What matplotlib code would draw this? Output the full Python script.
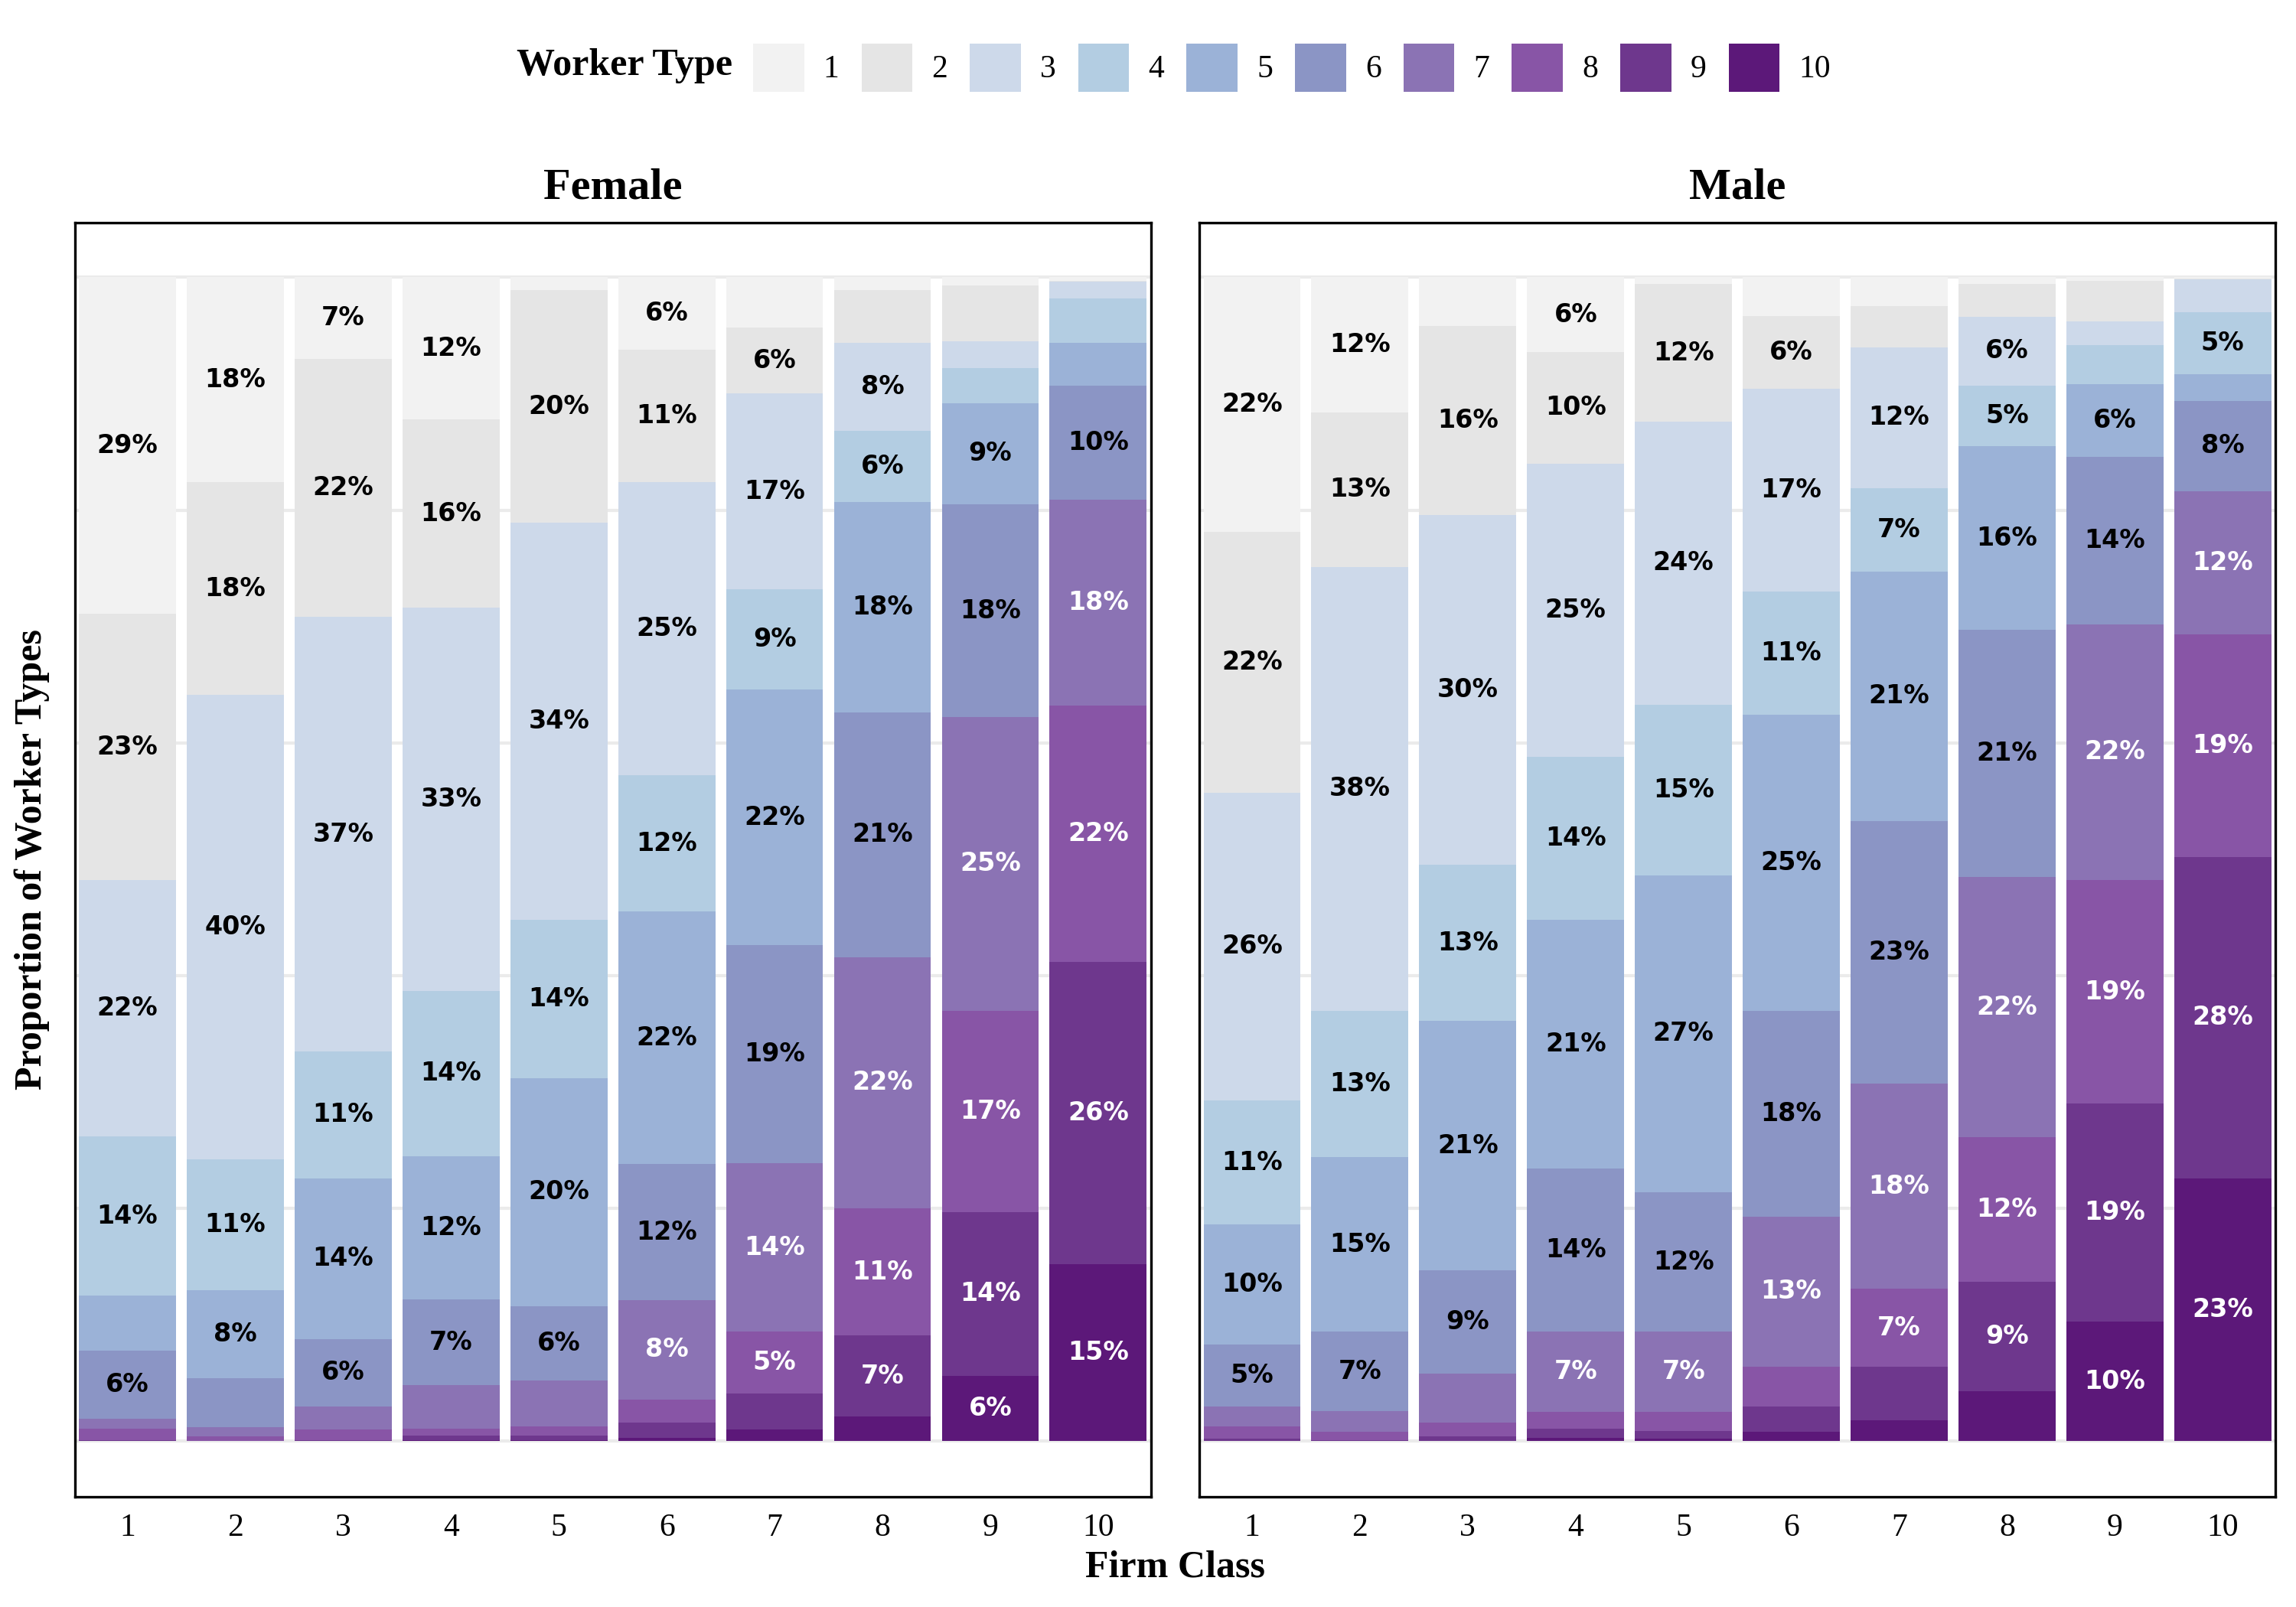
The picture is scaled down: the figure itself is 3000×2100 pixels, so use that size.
import matplotlib.pyplot as plt
import numpy as np
from matplotlib.patches import Patch

# classi di impresa (asse x) e tipi di lavoratore (pila)
firm_class = np.arange(1, 11)
worker_types = [str(i) for i in range(1, 11)]

# colori tipi di lavoratore 1 -> 10
palette = ["#F2F2F2", "#E5E5E5", "#CDD9EA", "#B3CDE2", "#9BB2D7",
           "#8B95C5", "#8B73B4", "#8855A6", "#6E378D", "#5C1879"]

# quote (%) per classe di impresa, tipi 1..10
female_shares = [
    [28.9, 22.9, 22.0, 13.7, 4.7, 5.9, 0.8, 1.0, 0.1, 0.0],
    [17.6, 18.3, 39.9, 11.2, 7.6, 4.2, 0.8, 0.4, 0.0, 0.0],
    [7.0, 22.2, 37.3, 10.9, 13.8, 5.8, 2.0, 0.9, 0.1, 0.0],
    [12.2, 16.2, 32.9, 14.2, 12.3, 7.4, 3.7, 0.6, 0.4, 0.1],
    [1.1, 20.0, 34.1, 13.6, 19.6, 6.4, 3.9, 0.8, 0.4, 0.1],
    [6.2, 11.4, 25.2, 11.7, 21.7, 11.7, 8.5, 2.0, 1.3, 0.3],
    [4.3, 5.7, 16.8, 8.6, 22.0, 18.7, 14.5, 5.3, 3.1, 1.0],
    [1.1, 4.5, 7.6, 6.1, 18.1, 21.0, 21.6, 10.9, 7.0, 2.1],
    [0.7, 4.8, 2.3, 3.0, 8.7, 18.3, 25.2, 17.3, 14.1, 5.6],
    [0.3, 0.1, 1.4, 3.8, 3.7, 9.8, 17.7, 22.0, 26.0, 15.2],
]
male_shares = [
    [21.9, 22.4, 26.4, 10.7, 10.3, 5.3, 1.7, 1.1, 0.2, 0.0],
    [11.6, 13.3, 38.1, 12.6, 15.0, 6.8, 1.8, 0.7, 0.1, 0.0],
    [4.2, 16.2, 30.1, 13.4, 21.4, 8.9, 4.2, 1.2, 0.4, 0.0],
    [6.4, 9.6, 25.2, 14.0, 21.4, 14.0, 6.9, 1.4, 0.8, 0.3],
    [0.6, 11.8, 24.3, 14.7, 27.2, 12.0, 6.9, 1.6, 0.7, 0.2],
    [3.3, 6.3, 17.4, 10.6, 25.4, 17.7, 12.9, 3.4, 2.2, 0.8],
    [2.5, 3.5, 12.1, 7.2, 21.4, 22.6, 17.6, 6.7, 4.6, 1.8],
    [0.6, 2.8, 5.9, 5.2, 15.8, 21.2, 22.4, 12.4, 9.4, 4.3],
    [0.3, 3.5, 2.0, 3.4, 6.2, 14.4, 22.0, 19.2, 18.7, 10.3],
    [0.1, 0.1, 2.8, 5.3, 2.3, 7.8, 12.3, 19.1, 27.6, 22.6],
]

SERIF = "Liberation Serif"


def plot_panel(ax, shares, title):
    """ barre impilate: tipo 10 in basso, tipo 1 in alto """
    data = np.array(shares, dtype=float)
    data = data / data.sum(axis=1, keepdims=True)

    for k in range(len(worker_types)):
        bottom = data[:, k + 1:].sum(axis=1)
        ax.bar(firm_class, data[:, k], bottom=bottom, width=0.9,
               color=palette[k], linewidth=0, zorder=2)
        for i, x in enumerate(firm_class):
            val = data[i, k]
            if val >= 0.05:
                ax.text(x, bottom[i] + val / 2, f"{round(val * 100)}%",
                        ha="center", va="center", fontsize=8,
                        fontweight="bold", family="DejaVu Sans",
                        color="white" if k >= 6 else "black", zorder=3)

    ax.set_xlim(0.51, 10.49)
    ax.set_ylim(-0.048, 1.047)
    ax.set_xticks(firm_class)
    ax.set_xticklabels([str(c) for c in firm_class], family=SERIF, fontsize=10)
    ax.set_yticks(np.arange(0, 1.01, 0.2))
    ax.set_yticklabels([])
    ax.tick_params(axis="both", length=0)
    ax.tick_params(axis="x", pad=5)
    ax.grid(axis="y", color="#EBEBEB", linewidth=1.0, zorder=0)
    for sp in ax.spines.values():
        sp.set_linewidth(0.8)
        sp.set_color("black")
    ax.text(0.5, 1.027, title, transform=ax.transAxes, ha="center",
            va="center", family=SERIF, fontsize=14, fontweight="bold")


fig = plt.figure(figsize=(10, 7), dpi=300)
ax_f = fig.add_axes([0.0325, 0.0684, 0.4688, 0.7931])
ax_m = fig.add_axes([0.5223, 0.0684, 0.4688, 0.7931])

plot_panel(ax_f, female_shares, "Female")
plot_panel(ax_m, male_shares, "Male")

# titoli assi
fig.text(0.512, 0.0246, "Firm Class", ha="center", va="center",
         family=SERIF, fontsize=12, fontweight="bold")
fig.text(0.014, 0.465, "Proportion of Worker Types", ha="center",
         va="center", rotation=90, family=SERIF, fontsize=12,
         fontweight="bold")

# legenda in alto
handles = [Patch(facecolor=c, edgecolor="none") for c in palette]
fig.legend(handles, worker_types, ncol=10, loc="center",
           bbox_to_anchor=(0.5627, 0.958), frameon=False,
           handlelength=1.6, handleheight=1.95, handletextpad=0.6,
           columnspacing=0.7, prop={"family": SERIF, "size": 10})
fig.text(0.319, 0.959, "Worker Type", ha="right", va="center",
         family=SERIF, fontsize=12, fontweight="bold")

fig.savefig("out.png", dpi=300)
